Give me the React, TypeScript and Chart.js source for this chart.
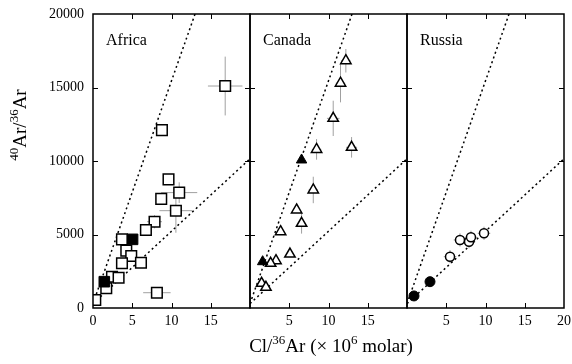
import React, { useEffect, useRef } from 'react';
import { Chart, registerables } from 'chart.js';

Chart.register(...registerables);

const FONT = '"Liberation Serif", "Times New Roman", serif';

// ---- data ----
const xTickValues = [0, 5, 10, 15, 20];
const yTickValues = [0, 5000, 10000, 15000, 20000];

const steepLineX = [0, 13.0];
const steepLineY = [295.5, 20000];
const shallowLineX = [0, 20];
const shallowLineY = [295.5, 10150];

const africaOpenX = [16.84, 8.78, 9.62, 10.98, 8.69, 10.56, 7.84, 6.74, 3.69, 4.24, 4.87, 3.69, 6.11, 2.42, 3.26, 1.69, 8.14, 0.29];
const africaOpenY = [15100, 12100, 8750, 7850, 7420, 6620, 5870, 5310, 4670, 3900, 3540, 3040, 3080, 2130, 2060, 1340, 1040, 540];
const africaOpenXErr = [2.2, 0, 0, 2.3, 0, 2.1, 0.95, 0, 0, 0, 0, 0, 0, 0, 0, 0, 1.75, 0];
const africaOpenYErr = [2000, 0, 0, 700, 0, 1500, 450, 0, 0, 0, 0, 0, 0, 0, 0, 0, 0, 0];
const africaFilledX = [5.04, 1.44];
const africaFilledY = [4670, 1790];

const canadaOpenX = [12.21, 11.53, 10.6, 8.48, 12.94, 8.06, 5.94, 6.57, 3.9, 5.09, 3.31, 2.63, 1.48, 2.03];
const canadaOpenY = [16820, 15290, 12900, 10790, 10930, 8030, 6670, 5760, 5190, 3670, 3220, 3040, 1680, 1410];
const canadaOpenXErr = [0.6, 0.6, 0.8, 0.6, 0.7, 0.6, 0, 0, 0, 0, 0, 0, 0, 0];
const canadaOpenYErr = [800, 1300, 1200, 700, 700, 900, 0, 700, 0, 0, 0, 0, 0, 0];
const canadaFilledX = [6.57, 1.61];
const canadaFilledY = [10070, 3150];

const russiaOpenX = [5.48, 6.75, 7.9, 8.15, 9.81];
const russiaOpenY = [3490, 4630, 4510, 4810, 5080];
const russiaOpenXErr = [0.8, 0.8, 0.8, 0.8, 0.8];
const russiaOpenYErr = [450, 450, 450, 450, 450];
const russiaFilledX = [0.89, 2.93];
const russiaFilledY = [820, 1790];

const yTitleParts = [{ t: '40', sup: true }, { t: 'Ar/' }, { t: '36', sup: true }, { t: 'Ar' }];
const xTitleParts = [{ t: 'Cl/' }, { t: '36', sup: true }, { t: 'Ar (\u00d7 10' }, { t: '6', sup: true }, { t: ' molar)' }];

const zip = (xs: number[], ys: number[]) => xs.map((x, i) => ({ x, y: ys[i] }));

function drawRich(ctx: CanvasRenderingContext2D, parts: { t: string; sup?: boolean }[], cx: number, cy: number, main: number, sup: number, rot: number) {
  ctx.save();
  ctx.translate(cx, cy);
  ctx.rotate(rot);
  ctx.fillStyle = '#000';
  ctx.textBaseline = 'alphabetic';
  ctx.textAlign = 'left';
  let total = 0;
  const widths = parts.map((p) => {
    ctx.font = `${p.sup ? sup : main}px ${FONT}`;
    const w = ctx.measureText(p.t).width;
    total += w;
    return w;
  });
  let xx = -total / 2;
  const base = main * 0.33;
  parts.forEach((p, i) => {
    ctx.font = `${p.sup ? sup : main}px ${FONT}`;
    ctx.fillText(p.t, xx, p.sup ? base - main * 0.42 : base);
    xx += widths[i];
  });
  ctx.restore();
}

const errorBarPlugin = {
  id: 'errbars',
  beforeDatasetsDraw(chart: any) {
    const { ctx, chartArea, scales } = chart;
    const xs = scales.x, ys = scales.y;
    ctx.save();
    ctx.beginPath();
    ctx.rect(chartArea.left, chartArea.top, chartArea.right - chartArea.left, chartArea.bottom - chartArea.top);
    ctx.clip();
    ctx.strokeStyle = '#a0a0a0';
    ctx.lineWidth = 1;
    ctx.beginPath();
    chart.data.datasets.forEach((ds: any) => {
      if (!ds.errX && !ds.errY) return;
      ds.data.forEach((p: any, i: number) => {
        const px = xs.getPixelForValue(p.x);
        const py = ys.getPixelForValue(p.y);
        const ex = ds.errX ? ds.errX[i] : 0;
        const ey = ds.errY ? ds.errY[i] : 0;
        if (ex) {
          ctx.moveTo(xs.getPixelForValue(p.x - ex), py);
          ctx.lineTo(xs.getPixelForValue(p.x + ex), py);
        }
        if (ey) {
          ctx.moveTo(px, ys.getPixelForValue(p.y - ey));
          ctx.lineTo(px, ys.getPixelForValue(p.y + ey));
        }
      });
    });
    ctx.stroke();
    ctx.restore();
  },
};

const framePlugin = {
  id: 'frame',
  afterDraw(chart: any) {
    const { ctx, chartArea: a, scales } = chart;
    const opts = chart.options.plugins.frame || {};
    ctx.save();
    ctx.strokeStyle = '#000';
    ctx.lineWidth = 1.5;
    ctx.strokeRect(a.left, a.top, a.right - a.left, a.bottom - a.top);
    ctx.lineWidth = 1;
    ctx.beginPath();
    const tl = 5;
    xTickValues.forEach((v) => {
      if (v <= 0 || v >= 20) return;
      const px = Math.round(scales.x.getPixelForValue(v)) + 0.5;
      ctx.moveTo(px, a.bottom);
      ctx.lineTo(px, a.bottom - tl);
      ctx.moveTo(px, a.top);
      ctx.lineTo(px, a.top + tl);
    });
    yTickValues.forEach((v) => {
      if (v <= 0 || v >= 20000) return;
      const py = Math.round(scales.y.getPixelForValue(v)) + 0.5;
      ctx.moveTo(a.left, py);
      ctx.lineTo(a.left + tl, py);
      ctx.moveTo(a.right, py);
      ctx.lineTo(a.right - tl, py);
    });
    ctx.stroke();
    // panel label
    ctx.fillStyle = '#000';
    ctx.font = `16px ${FONT}`;
    ctx.textBaseline = 'alphabetic';
    ctx.textAlign = 'left';
    ctx.fillText(opts.label, a.left + 13, a.top + 31);
    if (opts.yTitle) drawRich(ctx, yTitleParts, 20 - opts.offset, 125, 19, 13, -Math.PI / 2);
    if (opts.xTitle) drawRich(ctx, xTitleParts, 331 - opts.offset, 346, 19, 13, 0);
    ctx.restore();
  },
};

type PanelDef = {
  label: string;
  left: number;
  width: number;
  padLeft: number;
  padRight: number;
  showY: boolean;
  xTitle: boolean;
  yTitle: boolean;
  style: string;
  openR: number;
  filledR: number;
  openX: number[];
  openY: number[];
  openXErr: number[];
  openYErr: number[];
  filledX: number[];
  filledY: number[];
  showTick: (v: number) => boolean;
};

const panels: PanelDef[] = [
  {
    label: 'Africa', left: 0, width: 259, padLeft: 0, padRight: 6, showY: true, xTitle: false, yTitle: true,
    style: 'rect', openR: 7.5, filledR: 7.5,
    openX: africaOpenX, openY: africaOpenY, openXErr: africaOpenXErr, openYErr: africaOpenYErr,
    filledX: africaFilledX, filledY: africaFilledY, showTick: (v) => v < 20,
  },
  {
    label: 'Canada', left: 200, width: 250, padLeft: 50, padRight: 43, showY: false, xTitle: true, yTitle: false,
    style: 'triangle', openR: 6, filledR: 6,
    openX: canadaOpenX, openY: canadaOpenY, openXErr: canadaOpenXErr, openYErr: canadaOpenYErr,
    filledX: canadaFilledX, filledY: canadaFilledY, showTick: (v) => v > 0 && v < 20,
  },
  {
    label: 'Russia', left: 400, width: 172, padLeft: 7, padRight: 8, showY: false, xTitle: false, yTitle: false,
    style: 'circle', openR: 4.5, filledR: 5,
    openX: russiaOpenX, openY: russiaOpenY, openXErr: russiaOpenXErr, openYErr: russiaOpenYErr,
    filledX: russiaFilledX, filledY: russiaFilledY, showTick: (v) => v > 0,
  },
];

function Panel({ def }: { def: PanelDef }) {
  const ref = useRef<HTMLCanvasElement>(null);
  useEffect(() => {
    if (!ref.current) return;
    const chart = new Chart(ref.current, {
      type: 'scatter',
      data: {
        datasets: [
          {
            data: zip(def.openX, def.openY),
            errX: def.openXErr,
            errY: def.openYErr,
            pointStyle: def.style,
            pointRadius: def.openR,
            pointBackgroundColor: '#fff',
            pointBorderColor: '#000',
            pointBorderWidth: 1.5,
            order: 1,
          } as any,
          {
            data: zip(def.filledX, def.filledY),
            pointStyle: def.style,
            pointRadius: def.filledR,
            pointBackgroundColor: '#000',
            pointBorderColor: '#000',
            pointBorderWidth: 1,
            order: 0,
          },
          {
            type: 'line',
            data: zip(steepLineX, steepLineY),
            borderColor: '#000',
            borderWidth: 1.5,
            borderDash: [2, 3],
            pointRadius: 0,
            showLine: true,
            order: 2,
          } as any,
          {
            type: 'line',
            data: zip(shallowLineX, shallowLineY),
            borderColor: '#000',
            borderWidth: 1.5,
            borderDash: [2, 3],
            pointRadius: 0,
            showLine: true,
            order: 2,
          } as any,
        ],
      },
      options: {
        animation: false,
        responsive: false,
        events: [],
        layout: { padding: { left: def.padLeft, right: def.padRight, top: 14, bottom: 0 } },
        plugins: {
          legend: { display: false },
          tooltip: { enabled: false },
          frame: { label: def.label, xTitle: def.xTitle, yTitle: def.yTitle, offset: def.left },
        } as any,
        scales: {
          x: {
            type: 'linear',
            min: 0,
            max: 20,
            ticks: {
              stepSize: 5,
              autoSkip: false,
              maxRotation: 0,
              padding: 0,
              color: '#000',
              font: { family: FONT, size: 14 },
              callback: (v: any) => (def.showTick(Number(v)) ? String(v) : null),
            },
            grid: { display: false, drawTicks: true, tickLength: 5 },
            border: { display: false },
            afterFit: (s: any) => {
              s.height = 56;
            },
          },
          y: {
            display: def.showY,
            min: 0,
            max: 20000,
            ticks: {
              stepSize: 5000,
              padding: 0,
              color: '#000',
              font: { family: FONT, size: 14, lineHeight: 0.6 },
              callback: (v: any) => String(v),
            },
            grid: { display: false, drawTicks: true, tickLength: 9 },
            border: { display: false },
            afterFit: (s: any) => {
              s.width = def.showY ? 93 : 0;
            },
          },
        },
      },
      plugins: [errorBarPlugin, framePlugin],
    } as any);
    return () => chart.destroy();
  }, [def]);
  return (
    <canvas
      ref={ref}
      width={def.width}
      height={364}
      style={{ position: 'absolute', left: def.left, top: 0, width: def.width, height: 364 }}
    />
  );
}

export default function App() {
  return (
    <div style={{ position: 'absolute', left: 0, top: 0, width: 572, height: 364, background: '#fff', overflow: 'hidden' }}>
      {panels.map((p) => (
        <Panel key={p.label} def={p} />
      ))}
    </div>
  );
}
